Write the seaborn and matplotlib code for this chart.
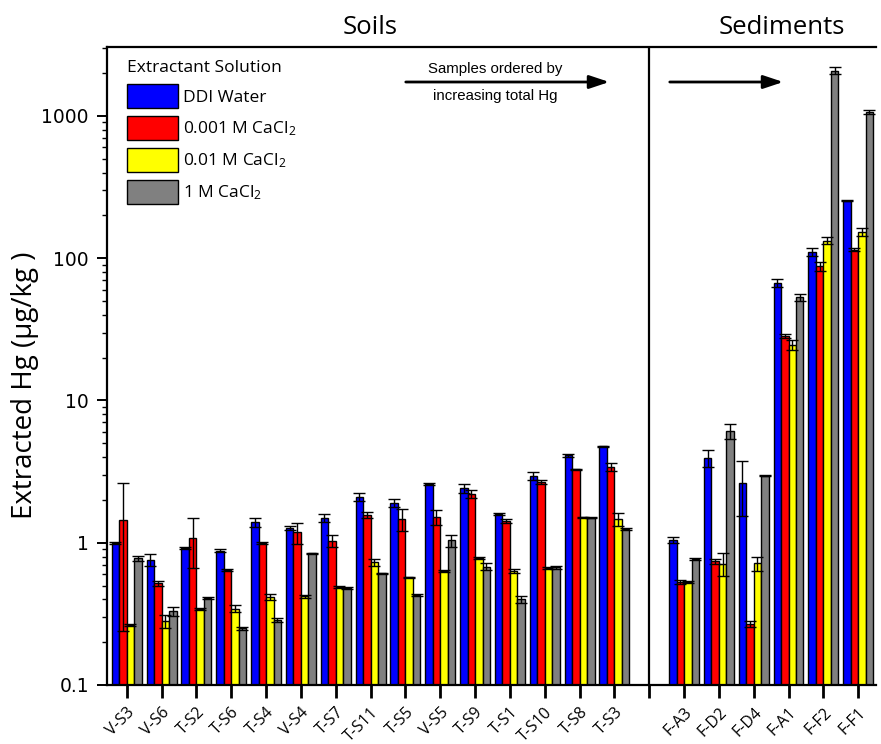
import numpy as np
import pandas as pd
import matplotlib
matplotlib.use("Agg")
import matplotlib.pyplot as plt
import seaborn as sns
from matplotlib.ticker import LogLocator, FuncFormatter, NullFormatter

# ---------------- data ----------------
soil_samples = ["V-S3", "V-S6", "T-S2", "T-S6", "T-S4", "V-S4", "T-S7", "T-S11",
                "T-S5", "V-S5", "T-S9", "T-S1", "T-S10", "T-S8", "T-S3"]
sediment_samples = ["F-A3", "F-D2", "F-D4", "F-A1", "F-F2", "F-F1"]

solutions = ["DDI Water", "0.001 M CaCl$_2$", "0.01 M CaCl$_2$", "1 M CaCl$_2$"]

ddi_water = [1.00, 0.76, 0.92, 0.88, 1.40, 1.27, 1.49, 2.10, 1.91, 2.58, 2.42, 1.60, 2.95, 4.12, 4.77,
             1.04, 3.93, 2.64, 66.8, 110, 254]
ddi_water_err = [0.02, 0.07, 0.02, 0.02, 0.10, 0.05, 0.10, 0.12, 0.12, 0.05, 0.18, 0.03, 0.20, 0.10, 0.05,
                 0.05, 0.55, 1.10, 4.5, 7, 3]
cacl2_0001 = [1.44, 0.52, 1.08, 0.64, 1.00, 1.18, 1.03, 1.57, 1.47, 1.51, 2.20, 1.42, 2.67, 3.29, 3.41,
              0.53, 0.74, 0.269, 28.5, 87.5, 115]
cacl2_0001_err = [1.20, 0.02, 0.42, 0.01, 0.02, 0.20, 0.10, 0.08, 0.27, 0.18, 0.15, 0.05, 0.10, 0.03, 0.20,
                  0.02, 0.03, 0.015, 1.0, 6, 2]
cacl2_001 = [0.264, 0.28, 0.34, 0.344, 0.413, 0.42, 0.49, 0.73, 0.57, 0.63, 0.78, 0.63, 0.66, 1.51, 1.47,
             0.53, 0.71, 0.716, 24.5, 133, 153]
cacl2_001_err = [0.005, 0.03, 0.005, 0.02, 0.02, 0.01, 0.01, 0.04, 0.005, 0.01, 0.01, 0.02, 0.01, 0.01, 0.15,
                 0.01, 0.13, 0.08, 2, 8, 9]
cacl2_1 = [0.78, 0.33, 0.41, 0.25, 0.286, 0.84, 0.48, 0.61, 0.43, 1.04, 0.68, 0.40, 0.67, 1.50, 1.24,
           0.77, 6.1, 2.95, 53.3, 2085, 1064]
cacl2_1_err = [0.03, 0.025, 0.005, 0.005, 0.01, 0.005, 0.01, 0.005, 0.005, 0.10, 0.04, 0.02, 0.02, 0.01, 0.02,
               0.01, 0.70, 0.02, 3, 130, 35]

colors = ["#0000FF", "#FF0000", "#FFFF00", "#808080"]

# ---------------- build table ----------------
samples = soil_samples + sediment_samples
gap = " "
order = soil_samples + [gap] + sediment_samples
values = [ddi_water, cacl2_0001, cacl2_001, cacl2_1]
errors = [ddi_water_err, cacl2_0001_err, cacl2_001_err, cacl2_1_err]

rows = []
for sol, vals, errs in zip(solutions, values, errors):
    for s, v, e in zip(samples, vals, errs):
        rows.append({"sample": s, "solution": sol, "value": v, "err": e})
df = pd.DataFrame(rows)
err_lookup = {(r.sample, r.solution): r.err for r in df.itertuples()}

# ---------------- figure ----------------
sns.set_style("ticks")
plt.rcParams["font.family"] = ["Open Sans", "DejaVu Sans"]
plt.rcParams["mathtext.default"] = "regular"
for k in ["text.color", "axes.labelcolor", "xtick.color", "ytick.color", "axes.edgecolor"]:
    plt.rcParams[k] = "black"

fig = plt.figure(figsize=(8.81, 7.44), dpi=100)
ax = fig.add_axes([107 / 881, 1 - 685 / 744, (875.6 - 107) / 881, (685 - 47) / 744])

sns.barplot(data=df, x="sample", y="value", hue="solution", order=order,
            hue_order=solutions, palette=colors, saturation=1, errorbar=None,
            width=0.86, edgecolor="black", linewidth=1.0, ax=ax, legend=True)

ax.set_yscale("log")
ax.set_ylim(0.1, 3050)
ax.set_xlim(-0.566, 21.5)

# error bars from the drawn bars
for cont, sol in zip(ax.containers, solutions):
    xs, ys, es = [], [], []
    for p in cont.patches:
        cx = p.get_x() + p.get_width() / 2
        h = p.get_height()
        pos = int(round(cx))
        name = order[pos]
        if name == gap or np.isnan(h):
            continue
        xs.append(cx)
        ys.append(h)
        es.append(err_lookup[(name, sol)])
    ax.errorbar(xs, ys, yerr=es, fmt="none", ecolor="black", elinewidth=1.0,
                capsize=4.5, capthick=1.0, zorder=5)

# divider between soils and sediments
ax.axvline(15, color="black", lw=1.6, zorder=6)

# spines / ticks
for side in ["left", "bottom", "top"]:
    ax.spines[side].set_visible(True)
    ax.spines[side].set_linewidth(1.6)
    ax.spines[side].set_color("black")
ax.spines["right"].set_visible(False)

ax.yaxis.set_major_locator(LogLocator(base=10, numticks=10))
ax.yaxis.set_minor_locator(LogLocator(base=10, subs=np.arange(2, 10), numticks=50))
ax.yaxis.set_major_formatter(FuncFormatter(lambda v, p: f"{v:g}"))
ax.yaxis.set_minor_formatter(NullFormatter())
ax.tick_params(axis="y", which="major", direction="out", length=7, width=1.4,
               left=True, right=False, labelsize=13.5, pad=6)
ax.tick_params(axis="y", which="minor", direction="out", length=3.5, width=1.0,
               left=True, right=False)
for lab in ax.get_yticklabels():
    lab.set_fontfamily("DejaVu Sans")

ax.set_xticks(range(len(order)))
ax.set_xticklabels(order, rotation=45, ha="right", rotation_mode="anchor", fontsize=11.5)
ax.tick_params(axis="x", which="major", direction="out", length=9, width=2.0,
               bottom=True, top=False, pad=5)

ax.set_xlabel("")
ax.set_ylabel("Extracted Hg (µg/kg )", fontsize=20)
ax.yaxis.set_label_coords(-0.089, 0.47)

# section titles
ax.text(7.0, 1.0298, "Soils", transform=ax.get_xaxis_transform(), ha="center",
        va="center", fontsize=18.5)
ax.text(18.8, 1.0298, "Sediments", transform=ax.get_xaxis_transform(), ha="center",
        va="center", fontsize=18.5)

# legend
handles, labels = ax.get_legend_handles_labels()
leg = ax.legend(handles, labels, title="Extractant Solution", loc="upper left",
                bbox_to_anchor=(0.015, 0.993), frameon=False, fontsize=12.5,
                title_fontsize=12.5, handlelength=2.9, handleheight=1.75,
                labelspacing=0.46, handletextpad=0.3, borderpad=0,
                alignment="left")
for h in leg.legend_handles:
    h.set_edgecolor("black")
    h.set_linewidth(1.0)

# ordering arrows
arrow_y = 1 - (82 - 47) / 638
astyle = dict(arrowstyle="-|>,head_length=1.2,head_width=0.4", color="black", lw=2)
ax.annotate("", xy=((612 - 107) / 768.6, arrow_y), xytext=((403 - 107) / 768.6, arrow_y),
            xycoords="axes fraction", arrowprops=astyle)
ax.text((495 - 107) / 768.6, 1 - (69 - 47) / 638, "Samples ordered by",
        transform=ax.transAxes, ha="center", va="center", fontsize=10.8,
        fontfamily="Liberation Sans")
ax.text((495 - 107) / 768.6, 1 - (96 - 47) / 638, "increasing total Hg",
        transform=ax.transAxes, ha="center", va="center", fontsize=10.8,
        fontfamily="Liberation Sans")
ax.annotate("", xy=((786 - 107) / 768.6, arrow_y), xytext=((667 - 107) / 768.6, arrow_y),
            xycoords="axes fraction", arrowprops=astyle)

fig.savefig("out.png", dpi=100, facecolor="white")
